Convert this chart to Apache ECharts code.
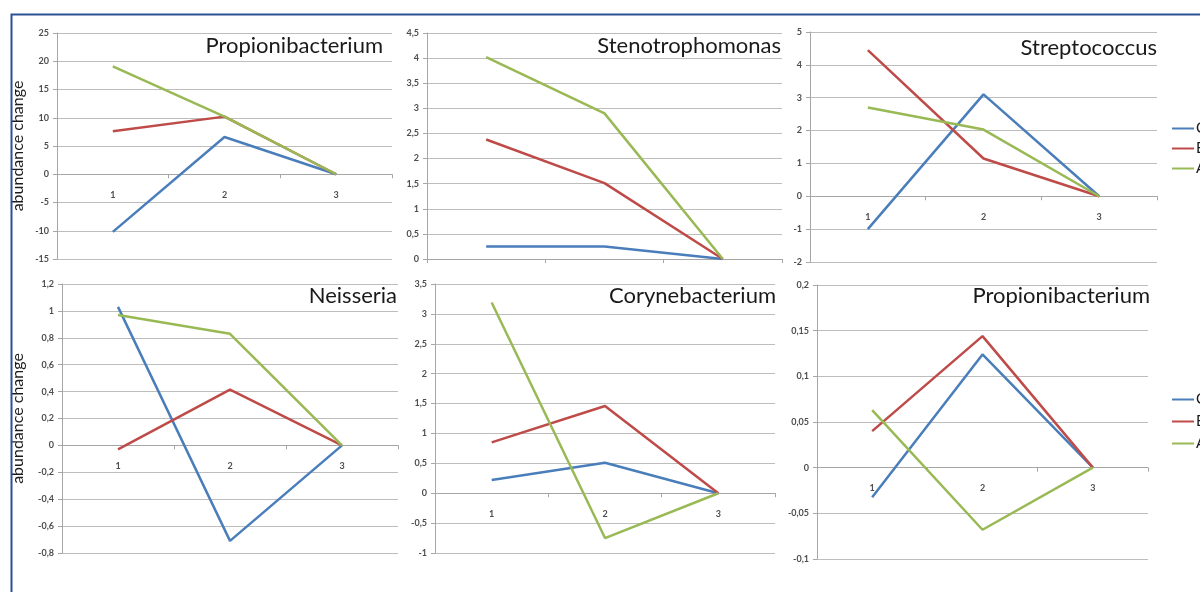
<!DOCTYPE html>
<html>
<head>
<meta charset="utf-8">
<script src="https://cdn.jsdelivr.net/npm/echarts@6/dist/echarts.min.js"></script>
<style>
  html, body { margin: 0; padding: 0; background: #fff; }
  #main { width: 1200px; height: 592px; }
</style>
</head>
<body>
<div id="main"></div>
<script>
// values, one array per line of each panel
var categories = ['1', '2', '3'];
var seriesNames = ['C', 'E', 'A'];
var colors = ['#4a7ebb', '#be4b48', '#98b954'];

var propionibacteriumC = [-10.2, 6.6, 0];
var propionibacteriumE = [7.6, 10.2, 0];
var propionibacteriumA = [19.1, 10.2, 0];

var stenotrophomonasC = [0.25, 0.25, 0];
var stenotrophomonasE = [2.38, 1.51, 0];
var stenotrophomonasA = [4.02, 2.9, 0];

var streptococcusC = [-1.0, 3.1, 0];
var streptococcusE = [4.45, 1.15, 0];
var streptococcusA = [2.7, 2.03, 0];

var neisseriaC = [1.03, -0.71, 0];
var neisseriaE = [-0.03, 0.415, 0];
var neisseriaA = [0.97, 0.83, 0];

var corynebacteriumC = [0.22, 0.51, 0];
var corynebacteriumE = [0.85, 1.46, 0];
var corynebacteriumA = [3.19, -0.75, 0];

var propionibacterium2C = [-0.0325, 0.124, 0];
var propionibacterium2E = [0.04, 0.144, 0];
var propionibacterium2A = [0.063, -0.068, 0];

var panelTitles = ['Propionibacterium', 'Stenotrophomonas', 'Streptococcus',
                   'Neisseria', 'Corynebacterium', 'Propionibacterium'];
var panelData = [
  [propionibacteriumC, propionibacteriumE, propionibacteriumA],
  [stenotrophomonasC, stenotrophomonasE, stenotrophomonasA],
  [streptococcusC, streptococcusE, streptococcusA],
  [neisseriaC, neisseriaE, neisseriaA],
  [corynebacteriumC, corynebacteriumE, corynebacteriumA],
  [propionibacterium2C, propionibacterium2E, propionibacterium2A]
];
// y range per panel: [min, max, interval]
var yRanges = [[-15, 25, 5], [0, 4.5, 0.5], [-2, 5, 1], [-0.8, 1.2, 0.2], [-1, 3.5, 0.5], [-0.1, 0.2, 0.05]];

// layout
var grids = [
  {left: 57, top: 33, width: 335, height: 226},
  {left: 427, top: 33, width: 355, height: 226},
  {left: 810, top: 32, width: 347, height: 230},
  {left: 62, top: 284, width: 336, height: 269},
  {left: 435, top: 284, width: 340, height: 269},
  {left: 817, top: 285, width: 331, height: 274}
];
var titleRight = [817, 419, 43, 803, 424, 50];
var titleTop = [35, 35, 37, 285, 285, 285];

var font = 'Lato, "Open Sans", sans-serif';

function commaNum(v) {
  return String(+v.toFixed(2)).replace('.', ',');
}

// category labels sit just under the zero line, not under the plot
function labelMargin(i) {
  var g = grids[i], r = yRanges[i];
  var zeroY = g.top + g.height * r[1] / (r[1] - r[0]);
  return zeroY + 16 - (g.top + g.height);
}

var option = {
  backgroundColor: '#fff',
  animation: false,
  color: colors,
  title: panelTitles.map(function (t, i) {
    return {
      text: t, right: titleRight[i], top: titleTop[i], padding: 0,
      textStyle: {fontFamily: font, fontSize: 22, fontWeight: 'normal', color: '#1a1a1a'}
    };
  }),
  legend: [
    {data: seriesNames, orient: 'vertical', left: 1167, top: 116, itemGap: 5,
     itemWidth: 22, itemHeight: 2, icon: 'rect',
     textStyle: {fontFamily: font, fontSize: 15, color: '#1a1a1a', padding: [0, 0, 0, -3]}},
    {data: seriesNames, orient: 'vertical', left: 1167, top: 387, itemGap: 7,
     itemWidth: 22, itemHeight: 2, icon: 'rect',
     textStyle: {fontFamily: font, fontSize: 15, color: '#1a1a1a', padding: [0, 0, 0, -3]}}
  ],
  grid: grids,
  xAxis: grids.map(function (g, i) {
    return {
      type: 'category', gridIndex: i, data: categories, boundaryGap: true,
      axisLine: {onZero: true, lineStyle: {color: '#a6a6a6'}},
      axisTick: {show: true, length: 4, lineStyle: {color: '#a6a6a6'}},
      axisLabel: {show: i !== 1, margin: labelMargin(i), fontFamily: font, fontSize: 9, fontWeight: 'bold', color: '#4d4d4d'},
      splitLine: {show: false}
    };
  }),
  yAxis: grids.map(function (g, i) {
    var r = yRanges[i];
    var y = {
      type: 'value', gridIndex: i, min: r[0], max: r[1], interval: r[2],
      axisLine: {show: true, lineStyle: {color: '#a6a6a6'}},
      axisTick: {show: true, length: 4, lineStyle: {color: '#a6a6a6'}},
      axisLabel: {margin: 8, fontFamily: font, fontSize: 9, fontWeight: 'bold', color: '#4d4d4d', formatter: commaNum},
      splitLine: {show: true, lineStyle: {color: '#bdbdbd', width: 1}}
    };
    if (i === 0 || i === 3) {
      y.name = 'abundance change';
      y.nameLocation = 'middle';
      y.nameRotate = 90;
      y.nameGap = i === 0 ? 31 : 36;
      y.nameTextStyle = {fontFamily: font, fontSize: 16, color: '#1a1a1a'};
    }
    return y;
  }),
  series: []
};

panelData.forEach(function (lines, i) {
  lines.forEach(function (vals, k) {
    option.series.push({
      type: 'line', name: seriesNames[k], xAxisIndex: i, yAxisIndex: i,
      data: vals, symbol: 'none', lineStyle: {width: 2.5, color: colors[k]},
      itemStyle: {color: colors[k]}
    });
  });
});

// dark blue frame around the slide
option.graphic = [{
  type: 'rect', left: 9, top: 12, z: 100,
  shape: {width: 1300, height: 700},
  style: {fill: null, stroke: '#2d5294', lineWidth: 2}
}];

var chart = echarts.init(document.getElementById('main'));
chart.setOption(option);
</script>
</body>
</html>
